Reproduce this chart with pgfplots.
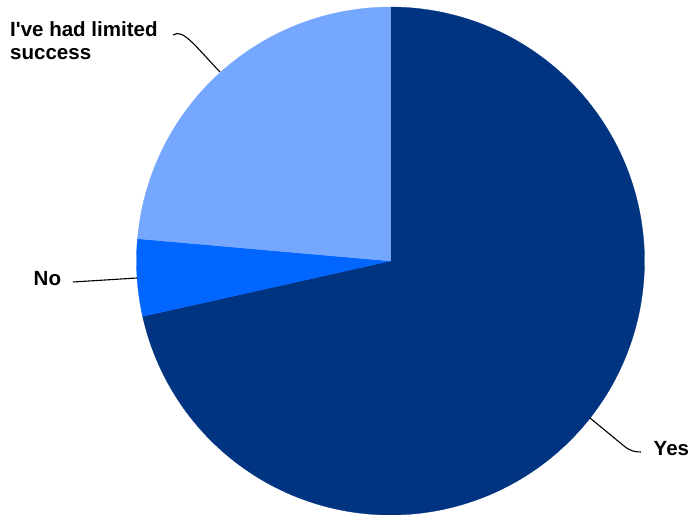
\documentclass[border=0pt]{standalone}
\usepackage{pgfplots}
\pgfplotsset{compat=1.18}
\usepackage{pgfplotstable}
\usepackage{fontspec}
\setmainfont{Liberation Sans}
\definecolor{cyes}{HTML}{003380}
\definecolor{cno}{HTML}{0066FF}
\definecolor{clim}{HTML}{76A7FF}
\pgfplotstableread{
label value
Yes 71.5
No 4.9
Limited 23.6
}\piedata
\begin{document}
\begin{tikzpicture}
\pgfplotstablegetelem{0}{value}\of\piedata \pgfmathsetmacro{\vYes}{\pgfplotsretval}
\pgfplotstablegetelem{1}{value}\of\piedata \pgfmathsetmacro{\vNo}{\pgfplotsretval}
\pgfplotstablegetelem{2}{value}\of\piedata \pgfmathsetmacro{\vLim}{\pgfplotsretval}
\pgfmathsetmacro{\aA}{90}
\pgfmathsetmacro{\aB}{90-3.6*\vYes}
\pgfmathsetmacro{\aC}{\aB-3.6*\vNo}
\pgfmathsetmacro{\aD}{\aC-3.6*\vLim}
\path[use as bounding box] (0,0) rectangle (692bp,515bp);
\begin{axis}[at={(0,0)}, anchor=south west, scale only axis,
  width=692bp, height=515bp, xmin=0, xmax=692, ymin=0, ymax=515,
  hide axis, clip=false]
\addplot[fill=cyes, draw=cyes, line width=0.3pt, domain=\aB:\aA, samples=200]
  ({390.5+254*cos(x)},{254+254*sin(x)}) -- (390.5,254) -- cycle;
\addplot[fill=cno, draw=cno, line width=0.3pt, domain=\aC:\aB, samples=30]
  ({390.5+254*cos(x)},{254+254*sin(x)}) -- (390.5,254) -- cycle;
\addplot[fill=clim, draw=clim, line width=0.3pt, domain=\aD:\aC, samples=80]
  ({390.5+254*cos(x)},{254+254*sin(x)}) -- (390.5,254) -- cycle;
% leader lines
\draw[black, line width=1.1bp] (173,480) .. controls (183,487) and (196,468) .. (220,443);
\draw[black, line width=1.1bp] (73,233) -- (137,237);
\draw[black, line width=1.1bp] (590,97) -- (624,69) .. controls (630,64) and (635,63) .. (641,63);
% labels
\node[anchor=base west, inner sep=0pt, font=\fontsize{20.6}{24}\selectfont\bfseries] at (10,478) {I\textquotesingle ve had limited};
\node[anchor=base west, inner sep=0pt, font=\fontsize{20.6}{24}\selectfont\bfseries] at (10,455) {success};
\node[anchor=base west, inner sep=0pt, font=\fontsize{20.6}{24}\selectfont\bfseries] at (33.5,229.5) {No};
\node[anchor=base west, inner sep=0pt, font=\fontsize{20.6}{24}\selectfont\bfseries] at (653.5,59.7) {Yes};
\end{axis}
\end{tikzpicture}
\end{document}
